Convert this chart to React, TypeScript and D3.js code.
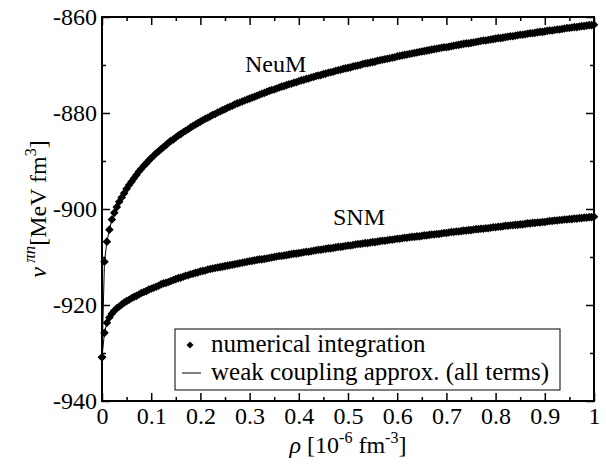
import React, { useEffect, useRef } from "react";
import * as d3 from "d3";

// density rho [10^-6 fm^-3]
const rho = [
  0, 0.005, 0.01, 0.015, 0.02, 0.025, 0.03, 0.035, 0.04, 0.045,
  0.05, 0.055, 0.06, 0.065, 0.07, 0.075, 0.08, 0.085, 0.09, 0.095,
  0.1, 0.105, 0.11, 0.115, 0.12, 0.125, 0.13, 0.135, 0.14, 0.145,
  0.15, 0.155, 0.16, 0.165, 0.17, 0.175, 0.18, 0.185, 0.19, 0.195,
  0.2, 0.205, 0.21, 0.215, 0.22, 0.225, 0.23, 0.235, 0.24, 0.245,
  0.25, 0.255, 0.26, 0.265, 0.27, 0.275, 0.28, 0.285, 0.29, 0.295,
  0.3, 0.305, 0.31, 0.315, 0.32, 0.325, 0.33, 0.335, 0.34, 0.345,
  0.35, 0.355, 0.36, 0.365, 0.37, 0.375, 0.38, 0.385, 0.39, 0.395,
  0.4, 0.405, 0.41, 0.415, 0.42, 0.425, 0.43, 0.435, 0.44, 0.445,
  0.45, 0.455, 0.46, 0.465, 0.47, 0.475, 0.48, 0.485, 0.49, 0.495,
  0.5, 0.505, 0.51, 0.515, 0.52, 0.525, 0.53, 0.535, 0.54, 0.545,
  0.55, 0.555, 0.56, 0.565, 0.57, 0.575, 0.58, 0.585, 0.59, 0.595,
  0.6, 0.605, 0.61, 0.615, 0.62, 0.625, 0.63, 0.635, 0.64, 0.645,
  0.65, 0.655, 0.66, 0.665, 0.67, 0.675, 0.68, 0.685, 0.69, 0.695,
  0.7, 0.705, 0.71, 0.715, 0.72, 0.725, 0.73, 0.735, 0.74, 0.745,
  0.75, 0.755, 0.76, 0.765, 0.77, 0.775, 0.78, 0.785, 0.79, 0.795,
  0.8, 0.805, 0.81, 0.815, 0.82, 0.825, 0.83, 0.835, 0.84, 0.845,
  0.85, 0.855, 0.86, 0.865, 0.87, 0.875, 0.88, 0.885, 0.89, 0.895,
  0.9, 0.905, 0.91, 0.915, 0.92, 0.925, 0.93, 0.935, 0.94, 0.945,
  0.95, 0.955, 0.96, 0.965, 0.97, 0.975, 0.98, 0.985, 0.99, 0.995,
  1.0,
];

// neutron matter
const vNeuM = [
  -930.9, -911.0, -906.8, -904.3, -902.2, -900.8, -899.6, -898.5, -897.6, -896.7,
  -895.8, -895.0, -894.3, -893.6, -892.9, -892.2, -891.6, -891.0, -890.5, -889.9,
  -889.4, -888.9, -888.4, -888.0, -887.5, -887.1, -886.7, -886.2, -885.8, -885.5,
  -885.1, -884.7, -884.4, -884.0, -883.7, -883.4, -883.0, -882.7, -882.4, -882.1,
  -881.8, -881.5, -881.2, -881.0, -880.7, -880.4, -880.2, -879.9, -879.7, -879.4,
  -879.2, -878.9, -878.7, -878.5, -878.2, -878.0, -877.8, -877.6, -877.4, -877.2,
  -877.0, -876.8, -876.6, -876.4, -876.2, -876.0, -875.8, -875.6, -875.4, -875.2,
  -875.1, -874.9, -874.7, -874.5, -874.4, -874.2, -874.0, -873.9, -873.7, -873.6,
  -873.4, -873.2, -873.1, -872.9, -872.8, -872.6, -872.5, -872.3, -872.2, -872.1,
  -871.9, -871.8, -871.6, -871.5, -871.4, -871.2, -871.1, -871.0, -870.8, -870.7,
  -870.6, -870.5, -870.3, -870.2, -870.1, -870.0, -869.8, -869.7, -869.6, -869.5,
  -869.4, -869.3, -869.1, -869.0, -868.9, -868.8, -868.7, -868.6, -868.5, -868.4,
  -868.2, -868.1, -868.0, -867.9, -867.8, -867.7, -867.6, -867.5, -867.4, -867.3,
  -867.2, -867.1, -867.0, -866.9, -866.8, -866.7, -866.6, -866.5, -866.4, -866.3,
  -866.3, -866.2, -866.1, -866.0, -865.9, -865.8, -865.7, -865.6, -865.5, -865.5,
  -865.4, -865.3, -865.2, -865.1, -865.0, -864.9, -864.9, -864.8, -864.7, -864.6,
  -864.5, -864.4, -864.4, -864.3, -864.2, -864.1, -864.0, -864.0, -863.9, -863.8,
  -863.7, -863.7, -863.6, -863.5, -863.4, -863.4, -863.3, -863.2, -863.1, -863.1,
  -863.0, -862.9, -862.8, -862.8, -862.7, -862.6, -862.6, -862.5, -862.4, -862.3,
  -862.3, -862.2, -862.1, -862.1, -862.0, -861.9, -861.9, -861.8, -861.7, -861.7,
  -861.6,
];

// symmetric nuclear matter
const vSNM = [
  -930.9, -925.8, -923.7, -922.6, -921.8, -921.2, -920.7, -920.3, -919.9, -919.5,
  -919.2, -918.9, -918.6, -918.3, -918.1, -917.8, -917.5, -917.3, -917.1, -916.8,
  -916.6, -916.4, -916.2, -916.0, -915.7, -915.5, -915.4, -915.2, -915.0, -914.8,
  -914.6, -914.4, -914.3, -914.1, -913.9, -913.8, -913.6, -913.5, -913.3, -913.2,
  -913.0, -912.9, -912.8, -912.6, -912.5, -912.4, -912.3, -912.2, -912.1, -912.0,
  -911.9, -911.8, -911.7, -911.6, -911.5, -911.4, -911.3, -911.2, -911.1, -911.0,
  -910.9, -910.8, -910.7, -910.6, -910.5, -910.5, -910.4, -910.3, -910.2, -910.1,
  -910.0, -909.9, -909.8, -909.8, -909.7, -909.6, -909.5, -909.4, -909.3, -909.3,
  -909.2, -909.1, -909.0, -908.9, -908.9, -908.8, -908.7, -908.6, -908.5, -908.5,
  -908.4, -908.3, -908.2, -908.2, -908.1, -908.0, -907.9, -907.9, -907.8, -907.7,
  -907.6, -907.6, -907.5, -907.4, -907.3, -907.3, -907.2, -907.1, -907.1, -907.0,
  -906.9, -906.9, -906.8, -906.7, -906.6, -906.6, -906.5, -906.4, -906.4, -906.3,
  -906.2, -906.2, -906.1, -906.0, -906.0, -905.9, -905.8, -905.8, -905.7, -905.7,
  -905.6, -905.5, -905.5, -905.4, -905.3, -905.3, -905.2, -905.2, -905.1, -905.0,
  -905.0, -904.9, -904.8, -904.8, -904.7, -904.7, -904.6, -904.5, -904.5, -904.4,
  -904.4, -904.3, -904.2, -904.2, -904.1, -904.1, -904.0, -904.0, -903.9, -903.8,
  -903.8, -903.7, -903.7, -903.6, -903.5, -903.5, -903.4, -903.4, -903.3, -903.3,
  -903.2, -903.2, -903.1, -903.0, -903.0, -902.9, -902.9, -902.8, -902.8, -902.7,
  -902.7, -902.6, -902.5, -902.5, -902.4, -902.4, -902.3, -902.3, -902.2, -902.2,
  -902.1, -902.1, -902.0, -902.0, -901.9, -901.9, -901.8, -901.8, -901.7, -901.7,
  -901.6,
];

const xTicks = [0, 0.1, 0.2, 0.3, 0.4, 0.5, 0.6, 0.7, 0.8, 0.9, 1];
const xTickLabels = ["0", "0.1", "0.2", "0.3", "0.4", "0.5", "0.6", "0.7", "0.8", "0.9", "1"];
const xMinor = [0.05, 0.15, 0.25, 0.35, 0.45, 0.55, 0.65, 0.75, 0.85, 0.95];
const yTicks = [-940, -920, -900, -880, -860];
const yMinor = [-930, -910, -890, -870];

const width = 606;
const height = 466;
const margin = { top: 17, right: 12, bottom: 65, left: 102 };
const font = "Liberation Serif, DejaVu Serif, serif";

function App() {
  const svgRef = useRef(null);

  useEffect(() => {
    const svg = d3.select(svgRef.current);
    svg.selectAll("*").remove();

    const x = d3.scaleLinear().domain([0, 1]).range([margin.left, width - margin.right]);
    const y = d3.scaleLinear().domain([-940, -860]).range([height - margin.bottom, margin.top]);
    const x0 = margin.left, x1 = width - margin.right;
    const y0 = height - margin.bottom, y1 = margin.top;

    // axes: inward ticks on all four sides
    const fmtX = (d) => xTickLabels[xTicks.indexOf(d)];
    const styleAxis = (g) => {
      g.select(".domain").remove();
      g.selectAll("line").attr("stroke", "#000").attr("stroke-width", 1.5);
      g.attr("font-family", null).attr("font-size", null);
      g.selectAll("text").attr("fill", "#000").style("font-family", font).style("font-size", "24px");
    };

    svg.append("g").attr("transform", `translate(0,${y0})`)
      .call(d3.axisBottom(x).tickValues(xTicks).tickFormat(fmtX).tickSizeInner(-8).tickSizeOuter(0).tickPadding(6))
      .call(styleAxis);
    svg.append("g").attr("transform", `translate(0,${y0})`)
      .call(d3.axisBottom(x).tickValues(xMinor).tickFormat(() => "").tickSizeInner(-4).tickSizeOuter(0))
      .call(styleAxis);
    svg.append("g").attr("transform", `translate(0,${y1})`)
      .call(d3.axisTop(x).tickValues(xTicks).tickFormat(() => "").tickSizeInner(-8).tickSizeOuter(0))
      .call(styleAxis);
    svg.append("g").attr("transform", `translate(0,${y1})`)
      .call(d3.axisTop(x).tickValues(xMinor).tickFormat(() => "").tickSizeInner(-4).tickSizeOuter(0))
      .call(styleAxis);

    svg.append("g").attr("transform", `translate(${x0},0)`)
      .call(d3.axisLeft(y).tickValues(yTicks).tickFormat((d) => String(d)).tickSizeInner(-8).tickSizeOuter(0).tickPadding(5))
      .call(styleAxis);
    svg.append("g").attr("transform", `translate(${x0},0)`)
      .call(d3.axisLeft(y).tickValues(yMinor).tickFormat(() => "").tickSizeInner(-4).tickSizeOuter(0))
      .call(styleAxis);
    svg.append("g").attr("transform", `translate(${x1},0)`)
      .call(d3.axisRight(y).tickValues(yTicks).tickFormat(() => "").tickSizeInner(-8).tickSizeOuter(0))
      .call(styleAxis);
    svg.append("g").attr("transform", `translate(${x1},0)`)
      .call(d3.axisRight(y).tickValues(yMinor).tickFormat(() => "").tickSizeInner(-4).tickSizeOuter(0))
      .call(styleAxis);

    // frame
    svg.append("rect")
      .attr("x", x0).attr("y", y1)
      .attr("width", x1 - x0).attr("height", y0 - y1)
      .attr("fill", "none").attr("stroke", "#000").attr("stroke-width", 2);

    // weak coupling lines + numerical diamonds
    const line = d3.line().x((d) => x(d[0])).y((d) => y(d[1]));
    const r = 4.3;
    const diamond = `M0,${-r}L${r},0L0,${r}L${-r},0Z`;
    [vNeuM, vSNM].forEach((vals) => {
      const pts = rho.map((p, i) => [p, vals[i]]);
      svg.append("path").attr("d", line(pts))
        .attr("fill", "none").attr("stroke", "#000").attr("stroke-width", 1);
      svg.append("g").selectAll("path")
        .data(pts)
        .join("path")
        .attr("d", diamond)
        .attr("transform", (d) => `translate(${x(d[0])},${y(d[1])})`)
        .attr("fill", "#000");
    });

    const txt = (sel, size) => sel.style("font-family", font).style("font-size", `${size}px`);

    // curve labels
    svg.append("text").attr("x", 245).attr("y", 72).call(txt, 24).text("NeuM");
    svg.append("text").attr("x", 333).attr("y", 225).call(txt, 24).text("SNM");

    // legend
    const lg = svg.append("g");
    lg.append("rect").attr("x", 175).attr("y", 329).attr("width", 385).attr("height", 61)
      .attr("fill", "#fff").attr("stroke", "#000").attr("stroke-width", 1);
    lg.append("path").attr("d", "M0,-3.5L3.5,0L0,3.5L-3.5,0Z")
      .attr("transform", "translate(190,345)").attr("fill", "#000");
    lg.append("line").attr("x1", 182).attr("x2", 201).attr("y1", 373).attr("y2", 373)
      .attr("stroke", "#000").attr("stroke-width", 1);
    lg.append("text").attr("x", 211).attr("y", 352).call(txt, 25).text("numerical integration");
    lg.append("text").attr("x", 211).attr("y", 380).call(txt, 25).text("weak coupling approx. (all terms)");

    // axis titles
    const xt = svg.append("text").attr("x", (x0 + x1) / 2).attr("y", 453)
      .attr("text-anchor", "middle").call(txt, 24);
    xt.append("tspan").attr("font-style", "italic").text("ρ");
    xt.append("tspan").text(" [10");
    xt.append("tspan").style("font-size", "16px").attr("dy", -10).text("-6");
    xt.append("tspan").attr("dy", 10).text(" fm");
    xt.append("tspan").style("font-size", "16px").attr("dy", -10).text("-3");
    xt.append("tspan").attr("dy", 10).text("]");

    const yt = svg.append("text")
      .attr("transform", `translate(46,${(y0 + y1) / 2}) rotate(-90)`)
      .attr("text-anchor", "middle").call(txt, 24);
    yt.append("tspan").attr("font-style", "italic").text("ν");
    yt.append("tspan").attr("font-style", "italic").style("font-size", "17px").attr("dy", -11).text(" πn");
    yt.append("tspan").attr("dy", 11).text("[MeV fm");
    yt.append("tspan").style("font-size", "16px").attr("dy", -10).text("3");
    yt.append("tspan").attr("dy", 10).text("]");
  }, []);

  return (
    <svg
      ref={svgRef}
      width={width}
      height={height}
      style={{ position: "absolute", left: 0, top: 0, background: "#fff" }}
    />
  );
}

export default App;
